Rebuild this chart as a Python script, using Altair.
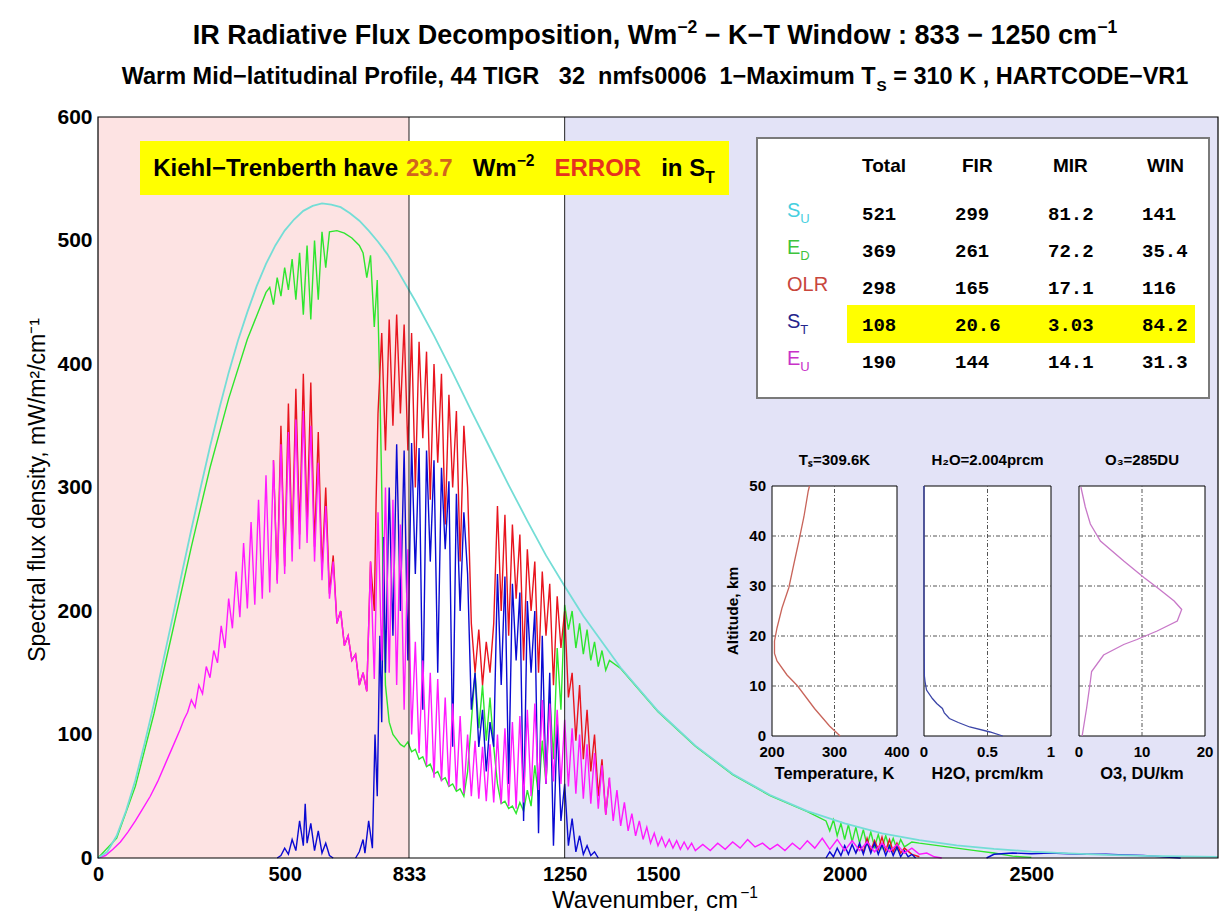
import altair as alt
import pandas as pd

# ---------------------------------------------------------------------------
# Spectral flux density (mW/m2/cm-1) against wavenumber (cm-1)
# ---------------------------------------------------------------------------
SU = [(0, 0), (25, 5), (50, 18), (75, 38), (100, 63), (125, 93), (150, 125), (175, 160), (200, 195),
      (225, 231), (250, 266), (275, 300), (300, 333), (325, 364), (350, 393), (375, 419), (400, 442),
      (425, 463), (450, 481), (475, 496), (500, 508), (525, 517), (550, 524), (575, 528), (600, 530),
      (625, 529), (650, 527), (675, 522), (700, 516), (725, 508), (750, 499), (775, 489), (800, 477),
      (850, 451), (900, 423), (950, 393), (1000, 362), (1050, 332), (1100, 302), (1150, 273),
      (1200, 245), (1250, 220), (1300, 196), (1400, 154), (1500, 119), (1600, 91), (1700, 68),
      (1800, 51), (1900, 38), (2000, 28), (2100, 20), (2200, 14.4), (2300, 10.3), (2400, 7.4),
      (2500, 5.2), (2600, 3.7), (2700, 2.6), (2800, 1.8), (2900, 1.3), (3000, 0.9)]

ED = [(0, 0), (50, 16), (100, 58), (150, 117), (200, 184), (250, 252), (300, 316), (350, 372),
      (400, 420), (450, 458), (460, 462), (470, 448), (480, 470), (490, 455), (500, 478), (510, 460),
      (520, 485), (530, 452), (540, 490), (550, 440), (560, 496), (570, 436), (580, 500), (590, 452),
      (600, 507), (610, 478), (620, 507), (640, 508), (660, 506), (680, 502), (700, 496), (710, 490),
      (720, 470), (730, 488), (740, 430), (748, 468), (755, 380), (760, 300), (765, 200), (770, 140),
      (780, 110), (790, 100), (800, 96), (810, 92), (820, 90), (830, 94), (840, 86), (850, 88),
      (860, 80), (870, 82), (880, 74), (890, 76), (900, 68), (910, 70), (920, 63), (930, 65),
      (940, 58), (950, 60), (960, 54), (970, 56), (980, 50), (990, 70), (1000, 110), (1010, 150),
      (1020, 105), (1030, 140), (1040, 95), (1050, 130), (1060, 90), (1070, 60), (1080, 44),
      (1090, 46), (1100, 40), (1110, 42), (1120, 36), (1130, 45), (1140, 38), (1150, 55), (1160, 42),
      (1170, 75), (1180, 50), (1190, 95), (1200, 60), (1210, 130), (1220, 80), (1230, 170),
      (1240, 120), (1250, 205), (1260, 185), (1270, 200), (1280, 170), (1290, 190), (1300, 165),
      (1310, 185), (1320, 160), (1330, 175), (1340, 155), (1350, 168), (1360, 152), (1370, 160),
      (1400, 153.5), (1500, 118.5), (1600, 90.5), (1700, 67.5), (1800, 50.5), (1900, 37.5),
      (1950, 30), (1960, 22), (1970, 31), (1980, 18), (1990, 28), (2000, 15), (2010, 27), (2020, 13),
      (2030, 25), (2040, 12), (2050, 23), (2060, 10), (2070, 21), (2080, 9), (2090, 19), (2100, 8),
      (2110, 18), (2120, 8), (2130, 16), (2140, 7), (2150, 15), (2160, 9), (2180, 13), (2200, 12),
      (2250, 10), (2300, 8), (2350, 6), (2400, 4), (2450, 1.5), (2500, 0.5)]

OLR = [
    [(470, 322), (480, 225), (490, 350), (500, 236), (510, 368), (520, 250), (530, 380), (540, 262),
     (550, 392), (560, 268), (570, 385), (580, 252), (590, 345), (600, 232), (610, 300), (620, 214),
     (630, 245), (640, 190), (650, 200), (660, 172), (670, 180), (680, 160), (690, 165), (700, 140),
     (710, 150), (720, 135), (730, 240), (740, 200), (745, 290), (750, 360), (760, 425), (770, 330),
     (780, 436), (790, 350), (800, 440), (810, 360), (820, 432), (830, 330), (840, 425), (850, 300),
     (860, 418), (870, 340), (880, 410), (890, 290), (900, 400), (910, 320), (920, 392), (930, 270),
     (940, 375), (950, 300), (960, 362), (970, 240), (980, 350), (990, 300), (1000, 190),
     (1010, 150), (1020, 185), (1030, 140), (1040, 175), (1050, 150), (1060, 190), (1070, 285),
     (1080, 200), (1090, 278), (1100, 180), (1110, 270), (1120, 210), (1130, 262), (1140, 160),
     (1150, 250), (1160, 200), (1170, 240), (1180, 150), (1190, 232), (1200, 180), (1210, 222),
     (1220, 140), (1230, 212), (1240, 170), (1250, 200), (1260, 130), (1270, 150), (1280, 95),
     (1290, 140), (1300, 80), (1310, 120), (1320, 70), (1330, 100), (1340, 50), (1350, 80),
     (1360, 35), (1370, 65)],
    [(2030, 4), (2040, 10), (2050, 5), (2060, 16), (2070, 6), (2080, 14), (2090, 7), (2100, 17),
     (2110, 6), (2120, 15), (2130, 5), (2140, 12), (2150, 4), (2160, 8), (2180, 3), (2200, 1)],
]

ST = [
    [(480, 0), (490, 2), (500, 8), (510, 3), (520, 15), (530, 6), (540, 30), (550, 10), (555, 44),
     (560, 12), (570, 28), (580, 6), (590, 22), (600, 4), (610, 12), (620, 2), (630, 0)],
    [(690, 0), (700, 5), (710, 15), (715, 4), (725, 30), (735, 8), (742, 100), (748, 50), (755, 180),
     (760, 110), (765, 260), (770, 150), (780, 300), (790, 180), (800, 335), (810, 200), (820, 330),
     (830, 160), (840, 336), (850, 230), (860, 332), (870, 120), (880, 330), (890, 240), (900, 322),
     (910, 150), (920, 316), (930, 250), (940, 305), (950, 90), (960, 295), (970, 200), (980, 280),
     (990, 230), (1000, 120), (1010, 150), (1020, 90), (1030, 120), (1040, 70), (1050, 110),
     (1060, 90), (1070, 230), (1080, 140), (1090, 228), (1100, 60), (1110, 222), (1120, 160),
     (1130, 215), (1140, 30), (1150, 208), (1160, 150), (1170, 200), (1180, 20), (1190, 180),
     (1200, 60), (1210, 150), (1220, 10), (1230, 110), (1240, 30), (1250, 60), (1260, 10),
     (1270, 32), (1280, 5), (1290, 18), (1300, 3), (1310, 10), (1320, 2), (1330, 5), (1340, 0)],
    [(1950, 0), (1960, 5), (1970, 1), (1980, 8), (1990, 2), (2000, 10), (2010, 3), (2020, 11),
     (2030, 4), (2040, 12), (2050, 3), (2060, 13), (2070, 4), (2080, 12), (2090, 3), (2100, 11),
     (2110, 2), (2120, 10), (2130, 2), (2140, 9), (2150, 1), (2160, 6), (2170, 1), (2180, 3),
     (2190, 0)],
    [(2380, 0), (2400, 3), (2450, 4), (2500, 3.5), (2550, 4), (2600, 3.5), (2650, 3), (2700, 3),
     (2750, 2.5), (2800, 2), (2850, 1), (2900, 0)],
]

EU = [(0, 0), (20, 2), (40, 7), (60, 13), (80, 21), (100, 30), (120, 40), (140, 50), (160, 62),
      (180, 76), (200, 90), (220, 104), (230, 112), (240, 118), (250, 128), (260, 122), (270, 140),
      (280, 133), (290, 155), (300, 146), (310, 168), (320, 158), (330, 188), (340, 170), (350, 210),
      (360, 186), (370, 232), (380, 195), (390, 255), (400, 202), (410, 272), (420, 205), (430, 290),
      (440, 210), (450, 310), (460, 215), (470, 322), (480, 222), (490, 335), (500, 230), (510, 345),
      (520, 240), (530, 355), (540, 250), (550, 362), (560, 255), (570, 350), (580, 240), (590, 320),
      (600, 225), (610, 285), (620, 210), (630, 240), (640, 190), (650, 200), (660, 172), (670, 180),
      (680, 160), (690, 165), (700, 140), (710, 150), (720, 135), (730, 240), (740, 145), (750, 280),
      (760, 160), (770, 300), (780, 150), (790, 290), (800, 140), (810, 270), (820, 120), (830, 250),
      (840, 100), (850, 175), (860, 85), (870, 160), (880, 75), (890, 150), (900, 65), (910, 145),
      (920, 62), (930, 130), (940, 58), (950, 125), (960, 55), (970, 115), (980, 52), (990, 100),
      (1000, 50), (1010, 95), (1020, 48), (1030, 90), (1040, 46), (1050, 92), (1060, 45), (1070, 100),
      (1080, 44), (1090, 105), (1100, 42), (1110, 110), (1120, 40), (1130, 115), (1140, 45),
      (1150, 120), (1160, 50), (1170, 125), (1180, 55), (1190, 128), (1200, 60), (1210, 125),
      (1220, 62), (1230, 120), (1240, 60), (1250, 112), (1260, 58), (1270, 105), (1280, 52),
      (1290, 100), (1300, 48), (1310, 92), (1320, 44), (1330, 85), (1340, 40), (1350, 75), (1360, 35),
      (1370, 65), (1380, 30), (1390, 55), (1400, 26), (1410, 45), (1420, 22), (1430, 36), (1440, 18),
      (1450, 30), (1460, 15), (1470, 25), (1480, 12), (1490, 20), (1500, 10), (1510, 17), (1520, 9),
      (1530, 15), (1540, 8), (1550, 14), (1560, 7), (1570, 13), (1580, 7), (1590, 12), (1600, 6),
      (1620, 11), (1640, 6), (1660, 12), (1680, 7), (1700, 13), (1720, 8), (1740, 15), (1760, 9),
      (1780, 12), (1800, 7), (1820, 11), (1840, 6), (1860, 12), (1880, 7), (1900, 14), (1920, 8),
      (1940, 16), (1960, 7), (1980, 15), (2000, 6), (2020, 14), (2040, 6), (2060, 13), (2080, 5),
      (2100, 12), (2120, 5), (2140, 11), (2160, 4), (2180, 8), (2200, 3), (2220, 4), (2240, 1),
      (2260, 0)]

# Spectral regions: FIR, K-T window, MIR
BANDS = [("FIR", 0, 833), ("WIN", 833, 1250), ("MIR", 1250, 3000)]
WINDOW_EDGES = [833, 1250]
X_TICKS = [0, 500, 833, 1250, 1500, 2000, 2500]
Y_TICKS = [0, 100, 200, 300, 400, 500, 600]

# Flux budget, W/m2
TABLE_COLS = ["Total", "FIR", "MIR", "WIN"]
TABLE_ROWS = [("S", "U"), ("E", "D"), ("OLR", ""), ("S", "T"), ("E", "U")]
TOTAL = [521, 369, 298, 108, 190]
FIR = [299, 261, 165, 20.6, 144]
MIR = [81.2, 72.2, 17.1, 3.03, 14.1]
WIN = [141, 35.4, 116, 84.2, 31.3]

# Atmospheric profile (altitude in km)
TEMP_PROFILE = [(309, 0), (292, 2), (268, 5.5), (241, 10), (224, 12.2), (208, 15), (204, 16.5),
                (204, 19), (208, 21.6), (216, 25.6), (227, 29.7), (235, 34.4), (243, 39),
                (251, 43.8), (258, 49), (260, 50)]
H2O_PROFILE = [(0.62, 0), (0.52, 0.8), (0.36, 1.8), (0.27, 2.7), (0.2, 3.5), (0.16, 4.6),
               (0.145, 5.5), (0.1, 6.5), (0.066, 7.5), (0.02, 9.2), (0.008, 10.9), (0.003, 12),
               (0.0, 20), (0.0, 50)]
O3_PROFILE = [(0.5, 0), (1.2, 5.5), (1.8, 10.9), (2.0, 12.9), (3.9, 16.2), (7.1, 18.3), (9.2, 19.3),
              (12.4, 21), (15.6, 23), (16.3, 25.3), (15.1, 27), (12.4, 29.7), (10.3, 31.7),
              (7.1, 35), (3.4, 39), (1.8, 42.4), (1.0, 45.8), (0.3, 49.8)]

# ---------------------------------------------------------------------------
# Layout and style
# ---------------------------------------------------------------------------
W, H = 1120, 741
LEFT, TOP = 98, 117
SANS = "Liberation Sans, Arial, Helvetica, sans-serif"
MONO = "Liberation Mono, Courier New, monospace"

C_SU, C_ED, C_OLR, C_ST, C_EU = "#74ddd6", "#2ee62e", "#e8141e", "#0a0ad2", "#ff1aff"
BAND_FILL = {"FIR": "#fde3e3", "WIN": "#ffffff", "MIR": "#e3e3f7"}
ROW_COLORS = ["#46cfe0", "#3dc43d", "#c8463c", "#25258c", "#c832c8"]

XS = alt.Scale(domain=[0, 3000], nice=False, zero=False)
YS = alt.Scale(domain=[0, 600], nice=False, zero=False)

# Advance widths (1/1000 em) of Liberation Sans, used to chain text runs
BOLD = {" ": 278, ",": 278, ".": 278, "/": 278, ":": 333, "=": 584, "\u2212": 584, "-": 333}
REG = {" ": 278, ",": 278, ".": 278, "/": 278, ":": 278, "=": 584, "\u2212": 584, "-": 333}
for d in "0123456789":
    BOLD[d] = 556
    REG[d] = 556
BOLD.update(A=722, C=722, D=722, E=667, F=611, G=778, H=722, I=278, K=722, L=611, M=833, N=722,
            O=778, P=667, R=722, S=667, T=611, U=722, V=667, W=944, a=556, b=611, c=556, d=611,
            e=556, f=333, g=611, h=611, i=278, k=556, l=278, m=889, n=611, o=611, p=611, r=389,
            s=556, t=333, u=611, v=556, w=778, x=556, y=556)
REG.update(A=667, C=722, D=722, E=667, K=667, L=556, O=778, R=722, S=667, T=611, U=722, W=944,
           a=556, b=556, c=500, d=556, e=556, m=833, n=556, r=333, u=556, v=500)


def text_width(s, size, bold=True):
    table = BOLD if bold else REG
    return sum(table.get(ch.replace("\u00a0", " "), 556) for ch in s) * size / 1000.0


def label(txt, px, py, size, color="black", bold=True, align="left", baseline="alphabetic",
          angle=0, font=SANS):
    """A single text run placed at page pixel coordinates."""
    mark = dict(align=align, baseline=baseline, fontSize=size, font=font, color=color,
                fontWeight="bold" if bold else "normal")
    if angle:
        mark["angle"] = angle
    return alt.Chart(pd.DataFrame({"t": [txt]})).mark_text(**mark).encode(
        x=alt.value(px - LEFT), y=alt.value(py - TOP), text="t:N")


def rich(pieces, px, py, size, bold=True, center=False):
    """Runs of normal, superscript and subscript text laid end to end ("gap" runs only advance)."""
    sized = []
    for piece in pieces:
        txt, role = piece[0], piece[1]
        color = piece[2] if len(piece) > 2 else "black"
        s = size * 0.65 if role in ("sup", "sub") else size
        sized.append((txt, role, color, s, text_width(txt, s, bold)))
    x = px - sum(p[4] for p in sized) / 2 if center else px
    out = []
    for txt, role, color, s, w in sized:
        if role != "gap":
            dy = {"n": 0, "sup": -0.42 * size, "sub": 0.3 * size}[role]
            out.append(label(txt, x, py + dy, s, color, bold))
        x += w
    return out


def curve(segments, color, width):
    rows = [dict(wn=w, v=v, seg=i) for i, seg in enumerate(segments) for w, v in seg]
    return alt.Chart(pd.DataFrame(rows)).mark_line(color=color, strokeWidth=width).encode(
        x=alt.X("wn:Q", scale=XS, axis=None),
        y=alt.Y("v:Q", scale=YS, axis=None),
        detail="seg:N",
    )


AXIS_STYLE = dict(title=None, grid=False, ticks=False, domain=False, labelFlush=False,
                  labelOverlap=False, labelFontWeight="bold", labelFont=SANS, labelColor="black",
                  labelPadding=6, format="d")

layers = []

# Background shading of the three spectral regions, carrying the main axes
bands = pd.DataFrame([dict(band=b, x0=a, x1=c, y0=0, y1=600) for b, a, c in BANDS])
layers.append(alt.Chart(bands).mark_rect().encode(
    x=alt.X("x0:Q", scale=XS, axis=alt.Axis(values=X_TICKS, labelFontSize=20, **AXIS_STYLE)),
    x2="x1:Q",
    y=alt.Y("y0:Q", scale=YS, axis=alt.Axis(values=Y_TICKS, labelFontSize=21, **AXIS_STYLE)),
    y2="y1:Q",
    color=alt.Color("band:N", scale=alt.Scale(domain=list(BAND_FILL), range=list(BAND_FILL.values())),
                    legend=None),
))

# Spectra
layers.append(curve([ED], C_ED, 1.4))
layers.append(curve(OLR, C_OLR, 1.4))
layers.append(curve(ST, C_ST, 1.4))
layers.append(curve([EU], C_EU, 1.4))
layers.append(curve([SU], C_SU, 1.8))

# Window boundaries
edges = pd.DataFrame({"wn": WINDOW_EDGES, "y0": 0, "y1": 600})
layers.append(alt.Chart(edges).mark_rule(color="#222222", strokeWidth=1).encode(
    x=alt.X("wn:Q", scale=XS, axis=None), y=alt.Y("y0:Q", scale=YS, axis=None), y2="y1:Q"))

# Plot frame
layers.append(alt.Chart(pd.DataFrame({"k": [0]})).mark_rect(
    fillOpacity=0, stroke="black", strokeWidth=1.2).encode(
    x=alt.value(0), x2=alt.value(W), y=alt.value(0), y2=alt.value(H)))

# Highlighted remark
layers.append(alt.Chart(pd.DataFrame({"k": [0]})).mark_rect(color="#ffff00").encode(
    x=alt.value(140 - LEFT), x2=alt.value(729 - LEFT), y=alt.value(141 - TOP), y2=alt.value(195 - TOP)))
layers += rich([("Kiehl\u2212Trenberth have", "n"), (" ", "gap"), ("23.7", "n", "#d2641e"),
                ("   ", "gap"), ("Wm", "n"), ("\u22122", "sup"), ("   ", "gap"),
                ("ERROR", "n", "#e6321e"), ("   ", "gap"), ("in S", "n"), ("T", "sub")],
               434, 176, 24, center=True)

# Flux budget table
layers.append(alt.Chart(pd.DataFrame({"k": [0]})).mark_rect(
    fill="white", stroke="#7a7a7a", strokeWidth=2).encode(
    x=alt.value(757 - LEFT), x2=alt.value(1209 - LEFT), y=alt.value(138 - TOP), y2=alt.value(398 - TOP)))
layers.append(alt.Chart(pd.DataFrame({"k": [0]})).mark_rect(color="#ffff00").encode(
    x=alt.value(847 - LEFT), x2=alt.value(1195 - LEFT), y=alt.value(305 - TOP), y2=alt.value(343 - TOP)))

HEAD_X = [862, 962, 1053, 1147]
COL_X = [862, 955, 1048, 1142]
ROW_Y = [220, 257, 294, 331, 368]
for name, hx in zip(TABLE_COLS, HEAD_X):
    layers.append(label(name, hx, 172, 19))
cells = []
for j, col in enumerate([TOTAL, FIR, MIR, WIN]):
    for i, v in enumerate(col):
        cells.append(dict(t=f"{v:.3g}", px=COL_X[j] - LEFT, py=ROW_Y[i] - TOP))
layers.append(alt.Chart(pd.DataFrame(cells)).mark_text(
    align="left", baseline="alphabetic", font=MONO, fontSize=19, fontWeight="bold", color="black").encode(
    x=alt.X("px:Q", scale=None), y=alt.Y("py:Q", scale=None), text="t:N"))
for (main, sub), color, ry in zip(TABLE_ROWS, ROW_COLORS, ROW_Y):
    pieces = [(main, "n", color)] + ([(sub, "sub", color)] if sub else [])
    layers += rich(pieces, 787, ry - 3, 20, bold=False)

# Profile insets
INSET_TOP, INSET_BOTTOM = 486, 736
SY = alt.Scale(domain=[0, 50], range=[INSET_BOTTOM - TOP, INSET_TOP - TOP], nice=False, zero=False)
PANELS = [
    dict(dom=[200, 400], px=[772, 897], ticks=[200, 300, 400], mid=300,
         title="T\u209b=309.6K", xlabel="Temperature, K", prof=TEMP_PROFILE, color="#c8645a"),
    dict(dom=[0, 1], px=[924, 1051], ticks=[0, 0.5, 1], mid=0.5,
         title="H\u2082O=2.004prcm", xlabel="H2O, prcm/km", prof=H2O_PROFILE, color="#3c46a8"),
    dict(dom=[0, 20], px=[1079, 1205], ticks=[0, 10, 20], mid=10,
         title="O\u2083=285DU", xlabel="O3, DU/km", prof=O3_PROFILE, color="#c878c8"),
]
GRID = dict(color="#555555", strokeWidth=1, strokeDash=[4, 2, 1, 2])
for p in PANELS:
    lo, hi = p["dom"]
    sx = alt.Scale(domain=p["dom"], range=[p["px"][0] - LEFT, p["px"][1] - LEFT], nice=False, zero=False)
    layers.append(alt.Chart(pd.DataFrame({"x0": [lo], "x1": [hi], "y0": [0], "y1": [50]})).mark_rect(
        fill="white", stroke="black", strokeWidth=1).encode(
        x=alt.X("x0:Q", scale=sx, axis=None), x2="x1:Q",
        y=alt.Y("y0:Q", scale=SY, axis=None), y2="y1:Q"))
    layers.append(alt.Chart(pd.DataFrame({"x": [p["mid"]], "y0": [0], "y1": [50]})).mark_rule(**GRID).encode(
        x=alt.X("x:Q", scale=sx, axis=None), y=alt.Y("y0:Q", scale=SY, axis=None), y2="y1:Q"))
    layers.append(alt.Chart(pd.DataFrame({"y": [10, 20, 30, 40], "x0": lo, "x1": hi})).mark_rule(**GRID).encode(
        x=alt.X("x0:Q", scale=sx, axis=None), x2="x1:Q", y=alt.Y("y:Q", scale=SY, axis=None)))
    prof = pd.DataFrame([dict(val=v, km=k) for v, k in p["prof"]])
    layers.append(alt.Chart(prof).mark_line(color=p["color"], strokeWidth=1.3).encode(
        x=alt.X("val:Q", scale=sx, axis=None), y=alt.Y("km:Q", scale=SY, axis=None),
        order=alt.Order("km:Q")))
    ticks = pd.DataFrame({"v": p["ticks"], "t": [f"{t:g}" for t in p["ticks"]]})
    layers.append(alt.Chart(ticks).mark_text(
        align="center", baseline="middle", font=SANS, fontSize=15, fontWeight="bold", color="black").encode(
        x=alt.X("v:Q", scale=sx, axis=None), y=alt.value(752 - TOP), text="t:N"))
    cx = (p["px"][0] + p["px"][1]) / 2
    layers.append(label(p["title"], cx, 460, 15, align="center", baseline="middle"))
    layers.append(label(p["xlabel"], cx, 774, 16.5, align="center", baseline="middle"))

alt_ticks = pd.DataFrame({"v": [0, 10, 20, 30, 40, 50], "t": ["0", "10", "20", "30", "40", "50"]})
layers.append(alt.Chart(alt_ticks).mark_text(
    align="right", baseline="middle", font=SANS, fontSize=15, fontWeight="bold", color="black").encode(
    x=alt.value(766 - LEFT), y=alt.Y("v:Q", scale=SY, axis=None), text="t:N"))
layers.append(label("Altitude, km", 733, 611, 15.5, align="center", baseline="middle", angle=270))

# Titles and axis titles
layers += rich([("IR Radiative Flux Decomposition, Wm", "n"), ("\u22122", "sup"), (" ", "gap"),
                ("\u2212 K\u2212T Window : 833 \u2212 1250 cm", "n"), ("\u22121", "sup")],
               655, 44, 27, center=True)
layers += rich([("Warm Mid\u2212latitudinal Profile, 44 TIGR\u00a0\u00a0\u00a032\u00a0\u00a0nmfs0006"
                 "\u00a0\u00a01\u2212Maximum T", "n"), ("S", "sub"), (" ", "gap"),
                ("= 310 K , HARTCODE\u2212VR1", "n")],
               655, 84, 23.5, center=True)
layers += rich([("Wavenumber, cm", "n"), ("\u22121", "sup")], 655, 908, 24, bold=False, center=True)
layers.append(label("Spectral flux density, mW/m\u00b2/cm\u207b\u00b9", 38, 490, 23, bold=False,
                    align="center", baseline="middle", angle=270))

chart = alt.layer(*layers).resolve_scale(x="independent", y="independent").properties(
    width=W, height=H,
    autosize=alt.AutoSizeParams(type="none"),
    padding={"left": LEFT, "top": TOP, "right": 1227 - LEFT - W, "bottom": 923 - TOP - H},
    background="white",
).configure_view(stroke=None)

chart.save("out.html", embed_options={"renderer": "svg", "actions": False})
